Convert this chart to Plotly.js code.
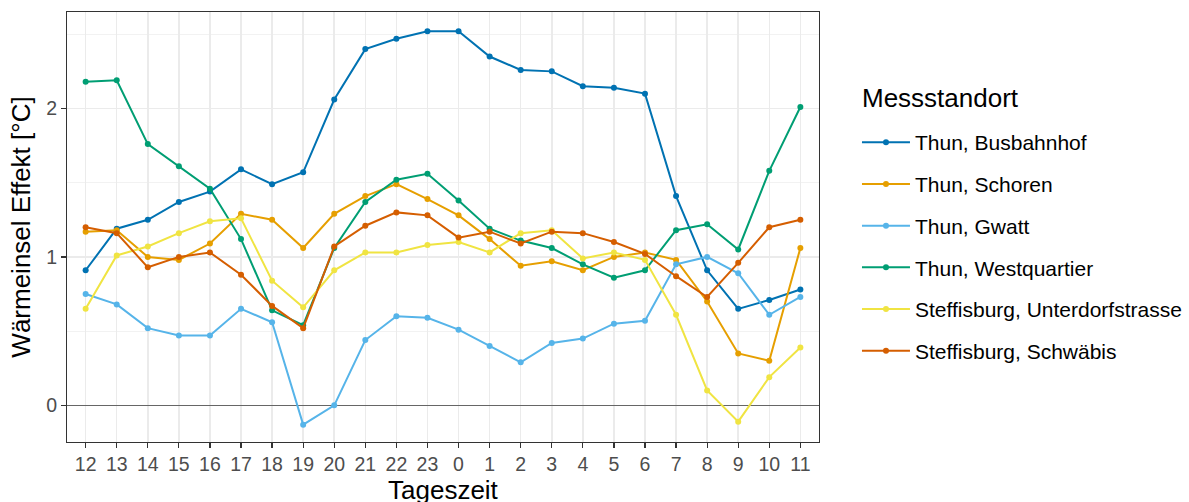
<!DOCTYPE html>
<html>
<head>
<meta charset="utf-8">
<script src="https://cdn.plot.ly/plotly-3.0.1.min.js"></script>
<style>html,body{margin:0;padding:0;background:#fff;}#chart{width:1189px;height:502px;}</style>
</head>
<body>
<div id="chart"></div>
<script>
const hours = ["12","13","14","15","16","17","18","19","20","21","22","23","0","1","2","3","4","5","6","7","8","9","10","11"];
const seriesNames = ["Thun, Busbahnhof","Thun, Schoren","Thun, Gwatt","Thun, Westquartier","Steffisburg, Unterdorfstrasse","Steffisburg, Schwäbis"];
const legendTitle = "Messstandort";
const xTitle = "Tageszeit";
const yTitle = "Wärmeinsel Effekt [°C]";
const busbahnhof = [0.91,1.19,1.25,1.37,1.44,1.59,1.49,1.57,2.06,2.40,2.47,2.52,2.52,2.35,2.26,2.25,2.15,2.14,2.10,1.41,0.91,0.65,0.71,0.78];
const schoren = [1.17,1.18,1.00,0.98,1.09,1.29,1.25,1.06,1.29,1.41,1.49,1.39,1.28,1.12,0.94,0.97,0.91,1.00,1.03,0.98,0.70,0.35,0.30,1.06];
const gwatt = [0.75,0.68,0.52,0.47,0.47,0.65,0.56,-0.13,0.00,0.44,0.60,0.59,0.51,0.40,0.29,0.42,0.45,0.55,0.57,0.95,1.00,0.89,0.61,0.73];
const westquartier = [2.18,2.19,1.76,1.61,1.46,1.12,0.64,0.54,1.06,1.37,1.52,1.56,1.38,1.19,1.11,1.06,0.95,0.86,0.91,1.18,1.22,1.05,1.58,2.01];
const unterdorf = [0.65,1.01,1.07,1.16,1.24,1.26,0.84,0.66,0.91,1.03,1.03,1.08,1.10,1.03,1.16,1.18,0.99,1.03,0.98,0.61,0.10,-0.11,0.19,0.39];
const schwaebis = [1.20,1.16,0.93,1.00,1.03,0.88,0.67,0.52,1.07,1.21,1.30,1.28,1.13,1.17,1.09,1.17,1.16,1.10,1.02,0.87,0.73,0.96,1.20,1.25];
const colors = ["#0072B2","#E69F00","#56B4E9","#009E73","#F0E442","#D55E00"];
const allValues = [busbahnhof, schoren, gwatt, westquartier, unterdorf, schwaebis];

const traces = allValues.map((vals, i) => ({
  x: hours, y: vals, name: seriesNames[i], type: "scatter", mode: "lines+markers",
  line: {color: colors[i], width: 2}, marker: {color: colors[i], size: 6},
  legendgroup: "g" + i
}));

const layout = {
  width: 1189, height: 502,
  margin: {l: 67, r: 370, t: 12, b: 60, autoexpand: false},
  paper_bgcolor: "#fff", plot_bgcolor: "#fff",
  font: {family: "Liberation Sans, Arial, sans-serif", color: "#000"},
  xaxis: {
    type: "category", categoryorder: "array", categoryarray: hours,
    range: [-0.6, 23.6],
    showgrid: true, gridcolor: "#EBEBEB", gridwidth: 1.5,
    ticks: "outside", ticklen: 5, tickcolor: "#333", tickwidth: 1.2,
    tickfont: {size: 19.5, color: "#4D4D4D"},
    showline: true, linecolor: "#333", linewidth: 1, mirror: true,
    zeroline: false
  },
  yaxis: {
    range: [-0.247, 2.65],
    tickvals: [0, 1, 2], ticktext: ["0", "1", "2"],
    showgrid: true, gridcolor: "#EBEBEB", gridwidth: 1.5,
    minor: {tickvals: [0.5, 1.5, 2.5], showgrid: true, gridcolor: "#F2F2F2", gridwidth: 1},
    ticks: "outside", ticklen: 5, tickcolor: "#333", tickwidth: 1.2,
    tickfont: {size: 19.5, color: "#4D4D4D"},
    showline: true, linecolor: "#333", linewidth: 1, mirror: true,
    zeroline: true, zerolinecolor: "#666", zerolinewidth: 1,
    title: {text: yTitle, font: {size: 26, color: "#000"}, standoff: 8}
  },
  legend: {
    x: 1.0505, xanchor: "left", y: 0.744, yanchor: "top",
    font: {size: 21, color: "#000"},
    tracegroupgap: 11.4,
    itemwidth: 48,
    bgcolor: "rgba(0,0,0,0)"
  },
  annotations: [{
    text: legendTitle, xref: "paper", yref: "paper", x: 1.0545, y: 0.8,
    xanchor: "left", yanchor: "middle", showarrow: false,
    font: {size: 26, color: "#000"}
  }, {
    text: xTitle, xref: "paper", yref: "paper", x: 0.5, y: -0.0721,
    xanchor: "center", yanchor: "top", showarrow: false,
    font: {size: 26, color: "#000"}
  }],
  showlegend: true
};

Plotly.newPlot("chart", traces, layout, {displayModeBar: false, staticPlot: true});
</script>
</body>
</html>
